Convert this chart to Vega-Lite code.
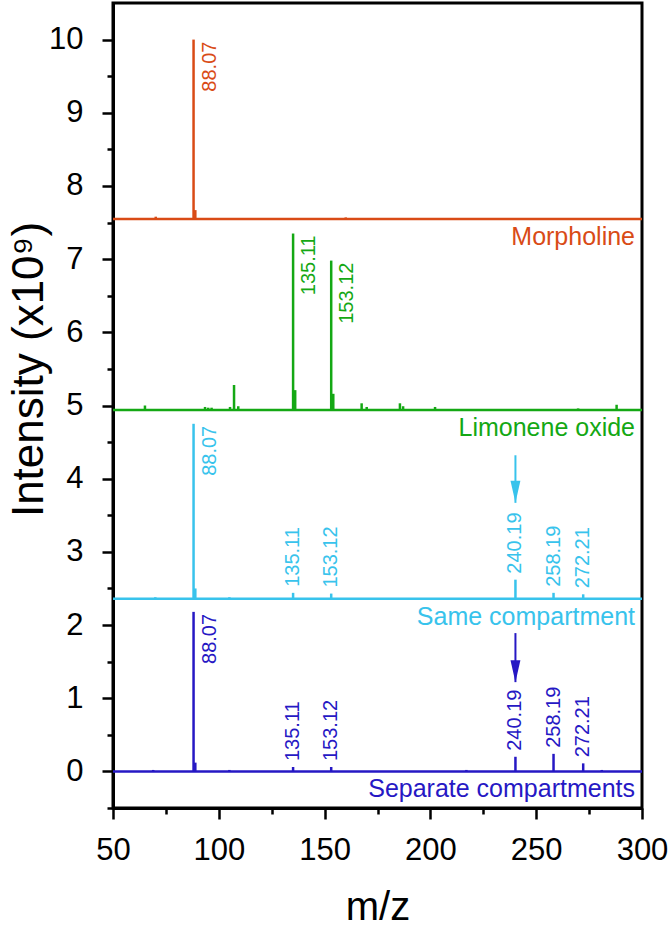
{
  "$schema": "https://vega.github.io/schema/vega-lite/v6.json",
  "width": 529,
  "height": 805,
  "autosize": "none",
  "padding": {"left": 113, "top": 3, "right": 30, "bottom": 118},
  "datasets": {
    "series": [
      {"series": "Morpholine", "base": 7.55},
      {"series": "Limonene oxide", "base": 4.94},
      {"series": "Same compartment", "base": 2.36},
      {"series": "Separate compartments", "base": 0}
    ],
    "peaks": [
      {"series": "Morpholine", "mz": 70.2, "base": 7.55, "top": 7.58},
      {"series": "Morpholine", "mz": 88.07, "base": 7.55, "top": 10.0, "label": "88.07", "pos": "side"},
      {"series": "Morpholine", "mz": 88.9, "base": 7.55, "top": 7.67},
      {"series": "Morpholine", "mz": 160.0, "base": 7.55, "top": 7.57},
      {"series": "Limonene oxide", "mz": 65.1, "base": 4.94, "top": 5.0},
      {"series": "Limonene oxide", "mz": 93.5, "base": 4.94, "top": 4.98},
      {"series": "Limonene oxide", "mz": 95.0, "base": 4.94, "top": 4.97},
      {"series": "Limonene oxide", "mz": 96.6, "base": 4.94, "top": 4.97},
      {"series": "Limonene oxide", "mz": 105.3, "base": 4.94, "top": 4.98},
      {"series": "Limonene oxide", "mz": 107.2, "base": 4.94, "top": 5.28},
      {"series": "Limonene oxide", "mz": 109.2, "base": 4.94, "top": 4.99},
      {"series": "Limonene oxide", "mz": 135.11, "base": 4.94, "top": 7.35, "label": "135.11", "pos": "side"},
      {"series": "Limonene oxide", "mz": 136.1, "base": 4.94, "top": 5.21},
      {"series": "Limonene oxide", "mz": 153.12, "base": 4.94, "top": 6.98, "label": "153.12", "pos": "side"},
      {"series": "Limonene oxide", "mz": 154.1, "base": 4.94, "top": 5.16},
      {"series": "Limonene oxide", "mz": 167.5, "base": 4.94, "top": 5.03},
      {"series": "Limonene oxide", "mz": 169.9, "base": 4.94, "top": 4.98},
      {"series": "Limonene oxide", "mz": 185.6, "base": 4.94, "top": 5.03},
      {"series": "Limonene oxide", "mz": 187.1, "base": 4.94, "top": 4.99},
      {"series": "Limonene oxide", "mz": 202.2, "base": 4.94, "top": 4.98},
      {"series": "Limonene oxide", "mz": 269.8, "base": 4.94, "top": 4.96},
      {"series": "Limonene oxide", "mz": 288.0, "base": 4.94, "top": 5.01},
      {"series": "Same compartment", "mz": 70.0, "base": 2.36, "top": 2.38},
      {"series": "Same compartment", "mz": 88.07, "base": 2.36, "top": 4.75, "label": "88.07", "pos": "side"},
      {"series": "Same compartment", "mz": 88.9, "base": 2.36, "top": 2.5},
      {"series": "Same compartment", "mz": 105.0, "base": 2.36, "top": 2.38},
      {"series": "Same compartment", "mz": 135.11, "base": 2.36, "top": 2.44, "label": "135.11", "pos": "above"},
      {"series": "Same compartment", "mz": 153.12, "base": 2.36, "top": 2.43, "label": "153.12", "pos": "above"},
      {"series": "Same compartment", "mz": 240.19, "base": 2.36, "top": 2.62, "label": "240.19", "pos": "above"},
      {"series": "Same compartment", "mz": 258.19, "base": 2.36, "top": 2.44, "label": "258.19", "pos": "above"},
      {"series": "Same compartment", "mz": 272.21, "base": 2.36, "top": 2.42, "label": "272.21", "pos": "above"},
      {"series": "Separate compartments", "mz": 69.0, "base": 0, "top": 0.02},
      {"series": "Separate compartments", "mz": 88.07, "base": 0, "top": 2.18, "label": "88.07", "pos": "side"},
      {"series": "Separate compartments", "mz": 88.9, "base": 0, "top": 0.12},
      {"series": "Separate compartments", "mz": 105.0, "base": 0, "top": 0.02},
      {"series": "Separate compartments", "mz": 135.11, "base": 0, "top": 0.06, "label": "135.11", "pos": "above"},
      {"series": "Separate compartments", "mz": 153.12, "base": 0, "top": 0.06, "label": "153.12", "pos": "above"},
      {"series": "Separate compartments", "mz": 217.0, "base": 0, "top": 0.02},
      {"series": "Separate compartments", "mz": 240.19, "base": 0, "top": 0.2, "label": "240.19", "pos": "above"},
      {"series": "Separate compartments", "mz": 258.19, "base": 0, "top": 0.24, "label": "258.19", "pos": "above"},
      {"series": "Separate compartments", "mz": 272.21, "base": 0, "top": 0.11, "label": "272.21", "pos": "above"},
      {"series": "Separate compartments", "mz": 281.0, "base": 0, "top": 0.02}
    ],
    "arrows": [
      {"series": "Same compartment", "mz": 240.19, "start": 4.32, "tip": 3.67},
      {"series": "Separate compartments", "mz": 240.19, "start": 1.89, "tip": 1.22}
    ]
  },
  "resolve": {"axis": {"x": "independent", "y": "independent"}},
  "layer": [
    {
      "data": {"name": "series"},
      "mark": {"type": "rule", "strokeWidth": 2.5},
      "encoding": {
        "x": {
          "datum": 50,
          "type": "quantitative",
          "scale": {"domain": [50, 300], "nice": false, "zero": false},
          "axis": {
            "orient": "bottom",
            "title": "m/z",
            "values": [50, 100, 150, 200, 250, 300],
            "titleFontSize": 40,
            "titleY": 111,
            "titleBaseline": "alphabetic",
            "labelPadding": 16
          }
        },
        "x2": {"datum": 300},
        "y": {
          "field": "base",
          "type": "quantitative",
          "scale": {"domain": [-0.5, 10.5], "nice": false, "zero": false},
          "axis": {
            "orient": "left",
            "title": "Intensity (x10⁹)",
            "values": [0, 1, 2, 3, 4, 5, 6, 7, 8, 9, 10],
            "titleFontSize": 44,
            "titleAngle": 270,
            "titleAlign": "center",
            "titleBaseline": "alphabetic",
            "titleX": -71,
            "titleY": 366,
            "labelPadding": 19
          }
        },
        "color": {
          "field": "series",
          "type": "nominal",
          "scale": {
            "domain": ["Morpholine", "Limonene oxide", "Same compartment", "Separate compartments"],
            "range": ["#D94B16", "#14A814", "#38C3EC", "#2618C4"]
          },
          "legend": null
        }
      }
    },
    {
      "data": {"name": "peaks"},
      "mark": {"type": "rule", "strokeWidth": 2.5},
      "encoding": {
        "x": {
          "field": "mz",
          "type": "quantitative",
          "axis": {
            "orient": "bottom",
            "title": null,
            "labels": false,
            "domain": false,
            "tickSize": 6,
            "values": [75, 125, 175, 225, 275]
          }
        },
        "y": {
          "field": "base",
          "type": "quantitative",
          "axis": {
            "orient": "left",
            "title": null,
            "labels": false,
            "domain": false,
            "tickSize": 6,
            "values": [-0.5, 0.5, 1.5, 2.5, 3.5, 4.5, 5.5, 6.5, 7.5, 8.5, 9.5]
          }
        },
        "y2": {"field": "top"},
        "color": {"field": "series", "type": "nominal", "legend": null}
      }
    },
    {
      "data": {"name": "peaks"},
      "transform": [{"filter": "datum.pos == 'side'"}],
      "mark": {"type": "text", "angle": 270, "align": "right", "baseline": "top", "dx": -2, "dy": 6, "fontSize": 20},
      "encoding": {
        "x": {"field": "mz", "type": "quantitative", "axis": null},
        "y": {"field": "top", "type": "quantitative", "axis": null},
        "text": {"field": "label"},
        "color": {"field": "series", "type": "nominal", "legend": null}
      }
    },
    {
      "data": {"name": "peaks"},
      "transform": [{"filter": "datum.pos == 'above'"}],
      "mark": {"type": "text", "angle": 270, "align": "left", "baseline": "middle", "dx": 6, "fontSize": 20},
      "encoding": {
        "x": {"field": "mz", "type": "quantitative", "axis": null},
        "y": {"field": "top", "type": "quantitative", "axis": null},
        "text": {"field": "label"},
        "color": {"field": "series", "type": "nominal", "legend": null}
      }
    },
    {
      "data": {"name": "series"},
      "mark": {"type": "text", "align": "right", "baseline": "alphabetic", "dx": -7, "dy": 26, "fontSize": 25},
      "encoding": {
        "x": {"datum": 300, "type": "quantitative", "axis": null},
        "y": {"field": "base", "type": "quantitative", "axis": null},
        "text": {"field": "series"},
        "color": {"field": "series", "type": "nominal", "legend": null}
      }
    },
    {
      "data": {"name": "arrows"},
      "mark": {"type": "rule", "strokeWidth": 2},
      "encoding": {
        "x": {"field": "mz", "type": "quantitative", "axis": null},
        "y": {"field": "start", "type": "quantitative", "axis": null},
        "y2": {"field": "tip"},
        "color": {"field": "series", "type": "nominal", "legend": null}
      }
    },
    {
      "data": {"name": "arrows"},
      "mark": {"type": "point", "shape": "M-0.45,-2L0.45,-2L0,0Z", "filled": true, "opacity": 1, "size": 484},
      "encoding": {
        "x": {"field": "mz", "type": "quantitative", "axis": null},
        "y": {"field": "tip", "type": "quantitative", "axis": null},
        "color": {"field": "series", "type": "nominal", "legend": null}
      }
    }
  ],
  "config": {
    "font": "Liberation Sans",
    "background": "white",
    "view": {"stroke": "black", "strokeWidth": 3},
    "axis": {
      "grid": false,
      "labelFontSize": 31,
      "labelColor": "black",
      "labelFont": "Liberation Sans",
      "labelFlush": false,
      "labelOverlap": false,
      "tickSize": 11,
      "tickWidth": 2.5,
      "tickColor": "black",
      "domainColor": "black",
      "domainWidth": 3,
      "titleFont": "Liberation Sans",
      "titleFontWeight": "normal",
      "titleColor": "black"
    },
    "text": {"font": "Liberation Sans"}
  }
}
